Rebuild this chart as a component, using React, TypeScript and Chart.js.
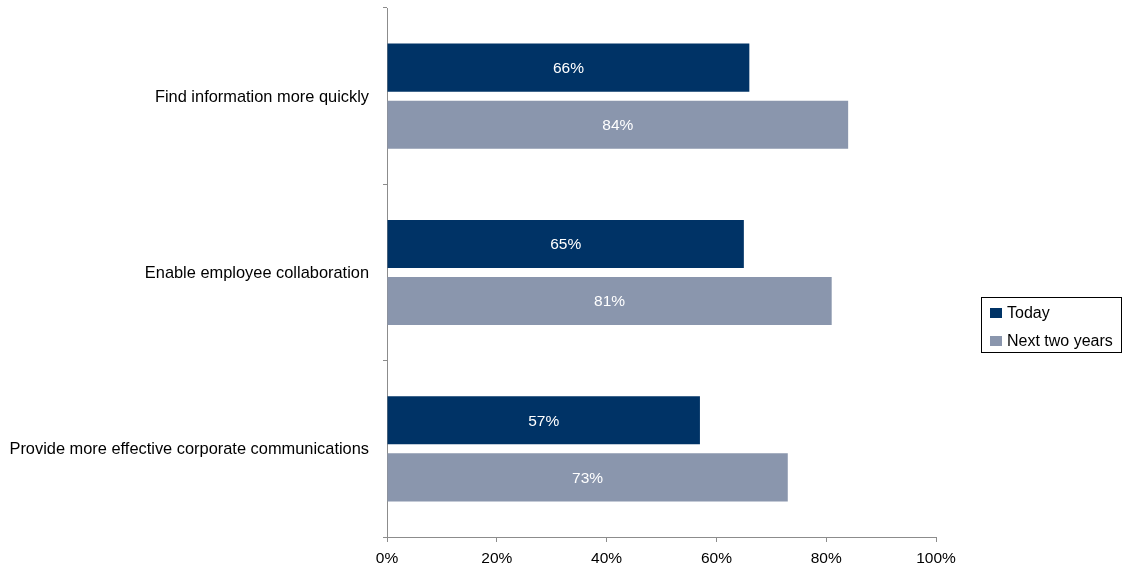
import React, { useEffect, useRef } from "react";
import { Chart, registerables } from "chart.js";

Chart.register(...registerables);

const categories = [
  "Find information more quickly",
  "Enable employee collaboration",
  "Provide more effective corporate communications",
];
const todayValues = [66, 65, 57];
const nextTwoYearsValues = [84, 81, 73];
const seriesNames = ["Today", "Next two years"];
const xTicks = [0, 20, 40, 60, 80, 100];

const FONT = "'Liberation Sans', Arial, sans-serif";
const COLORS = ["#003366", "#8a96ad"];

const barLabelPlugin = {
  id: "barLabels",
  afterDatasetsDraw(chart: any) {
    const ctx = chart.ctx;
    ctx.save();
    ctx.fillStyle = "#ffffff";
    ctx.font = `15.5px ${FONT}`;
    ctx.textAlign = "center";
    ctx.textBaseline = "middle";
    chart.data.datasets.forEach((ds: any, di: number) => {
      const meta = chart.getDatasetMeta(di);
      meta.data.forEach((el: any, i: number) => {
        const p = el.getProps(["x", "y", "base"], true);
        ctx.fillText(`${ds.data[i]}%`, (p.x + p.base) / 2, p.y + 1);
      });
    });
    ctx.restore();
  },
};

const boxLegendPlugin = {
  id: "boxLegend",
  afterDraw(chart: any) {
    const ctx = chart.ctx;
    ctx.save();
    const x0 = 981, y0 = 297, w = 141, h = 56;
    ctx.fillStyle = "#ffffff";
    ctx.fillRect(x0, y0, w, h);
    ctx.strokeStyle = "#000000";
    ctx.lineWidth = 1;
    ctx.strokeRect(x0 + 0.5, y0 + 0.5, w - 1, h - 1);
    ctx.font = `16px ${FONT}`;
    ctx.textBaseline = "middle";
    ctx.textAlign = "left";
    chart.data.datasets.forEach((ds: any, i: number) => {
      const cy = y0 + 16 + i * 28;
      ctx.fillStyle = ds.backgroundColor;
      ctx.fillRect(x0 + 9, cy - 5, 12, 10);
      ctx.fillStyle = "#000000";
      ctx.fillText(ds.label, x0 + 26, cy + 1);
    });
    ctx.restore();
  },
};

export default function App() {
  const canvasRef = useRef<HTMLCanvasElement>(null);

  useEffect(() => {
    document.body.style.margin = "0";
    const chart = new Chart(canvasRef.current as HTMLCanvasElement, {
      type: "bar",
      data: {
        labels: categories,
        datasets: [
          {
            label: seriesNames[0],
            data: todayValues,
            backgroundColor: COLORS[0],
            categoryPercentage: 0.648,
            barPercentage: 0.842,
          },
          {
            label: seriesNames[1],
            data: nextTwoYearsValues,
            backgroundColor: COLORS[1],
            categoryPercentage: 0.648,
            barPercentage: 0.842,
          },
        ],
      },
      options: {
        indexAxis: "y",
        animation: false,
        responsive: false,
        maintainAspectRatio: false,
        layout: { padding: { top: 8, right: 189, left: 0, bottom: 0 } },
        plugins: {
          legend: { display: false },
          tooltip: { enabled: false },
        },
        scales: {
          x: {
            min: 0,
            max: 100,
            afterBuildTicks: (scale: any) => {
              scale.ticks = xTicks.map((v) => ({ value: v }));
            },
            afterFit: (scale: any) => {
              scale.height = 29;
            },
            grid: {
              drawOnChartArea: false,
              drawTicks: true,
              tickLength: 5,
              color: "#8c8c8c",
            },
            border: { color: "#8c8c8c" },
            ticks: {
              color: "#000000",
              font: { family: FONT, size: 15.5 },
              padding: 7,
              maxRotation: 0,
              callback: (v: any) => `${v}%`,
            },
          },
          y: {
            afterFit: (scale: any) => {
              scale.width = 387;
              scale.paddingTop = 0;
              scale.paddingBottom = 0;
            },
            grid: {
              offset: true,
              drawOnChartArea: false,
              drawTicks: true,
              tickLength: 4,
              color: "#8c8c8c",
            },
            border: { color: "#8c8c8c" },
            ticks: {
              color: "#000000",
              font: { family: FONT, size: 16.4 },
              padding: 14,
              labelOffset: 1,
            },
          },
        },
      },
      plugins: [barLabelPlugin, boxLegendPlugin],
    });
    return () => chart.destroy();
  }, []);

  return (
    <div style={{ width: 1125, height: 566 }}>
      <canvas ref={canvasRef} width={1125} height={566} />
    </div>
  );
}
